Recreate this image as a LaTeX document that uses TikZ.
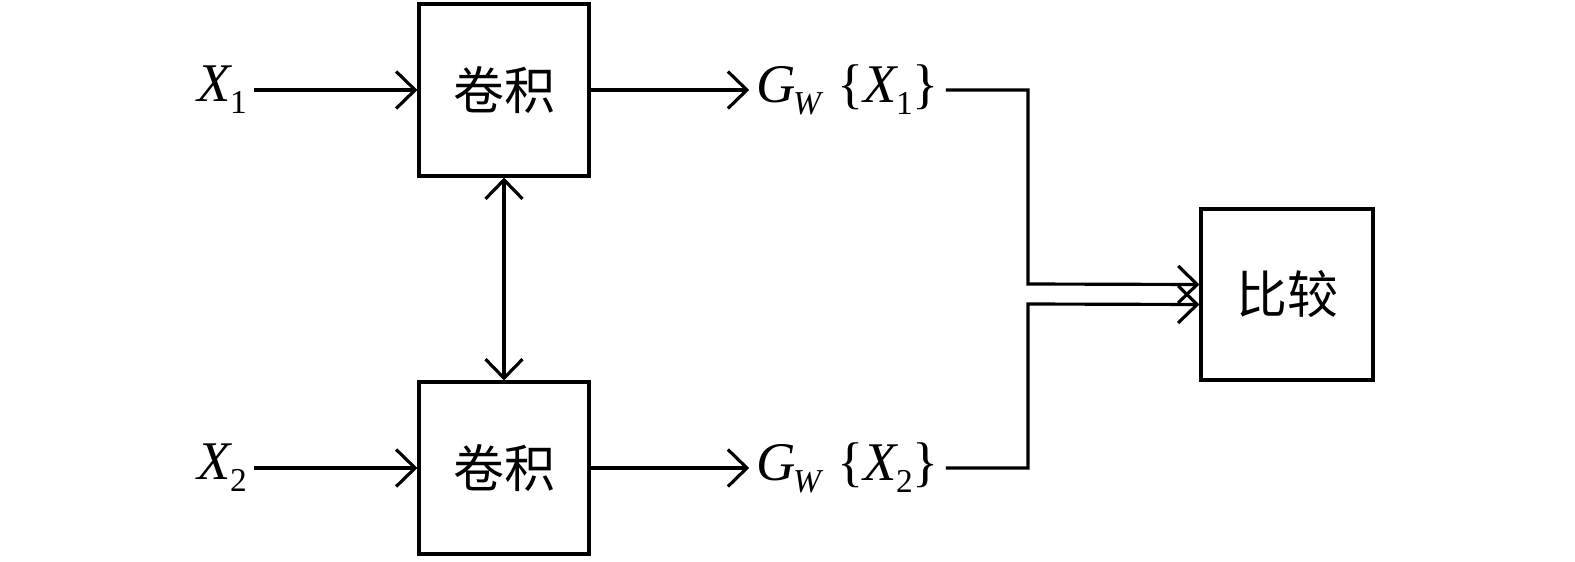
\documentclass[tikz,border=0pt]{standalone}
\usepackage{fontspec}
\setmainfont{Liberation Serif}
\newfontfamily\cjk{Noto Sans CJK SC}
\usetikzlibrary{arrows.meta}
\newcommand{\sub}[1]{\kern-0.04em\raisebox{-0.22em}{\fontsize{19}{19}\selectfont #1}}
\begin{document}
\begin{tikzpicture}[line width=1.8pt,
    >={Straight Barb[length=3.8mm,width=7.4mm,line width=1.8pt]},
    block/.style={draw, minimum width=3.4cm, minimum height=3.44cm, inner sep=0pt,
                  font=\cjk\fontsize{29}{29}\selectfont},
    lbl/.style={inner sep=3pt, font=\fontsize{31}{31}\selectfont}]
  \useasboundingbox (0,0) rectangle (31.5,11.22);

  \node[block] (conv1) at (10.08,9.42) {卷积};
  \node[block] (conv2) at (10.08,1.86) {卷积};
  \node[block, minimum height=3.42cm, minimum width=3.44cm] (cmp) at (25.74,5.33) {比较};

  \node[lbl] (x1) at (4.44,9.42) {\textit{X}\sub{1}};
  \node[lbl] (x2) at (4.44,1.86) {\textit{X}\sub{2}};
  \node[lbl] (g1) at (16.95,9.42) {\textit{G}\sub{\textit{W}}\ \{\textit{X}\sub{1}\}};
  \node[lbl] (g2) at (16.95,1.86) {\textit{G}\sub{\textit{W}}\ \{\textit{X}\sub{2}\}};

  \coordinate (k1) at (20.56,5.54);
  \coordinate (k2) at (20.56,5.14);

  \draw[->] (x1) -- (conv1);
  \draw[->] (x2) -- (conv2);
  \draw[->] (conv1) -- (g1);
  \draw[->] (conv2) -- (g2);
  \draw[<->] (conv1) -- (conv2);
  \draw[->] (g1) -| (k1) -- ([yshift=2mm]cmp.west);
  \draw[->] (g2) -| (k2) -- ([yshift=-2mm]cmp.west);
\end{tikzpicture}
\end{document}
